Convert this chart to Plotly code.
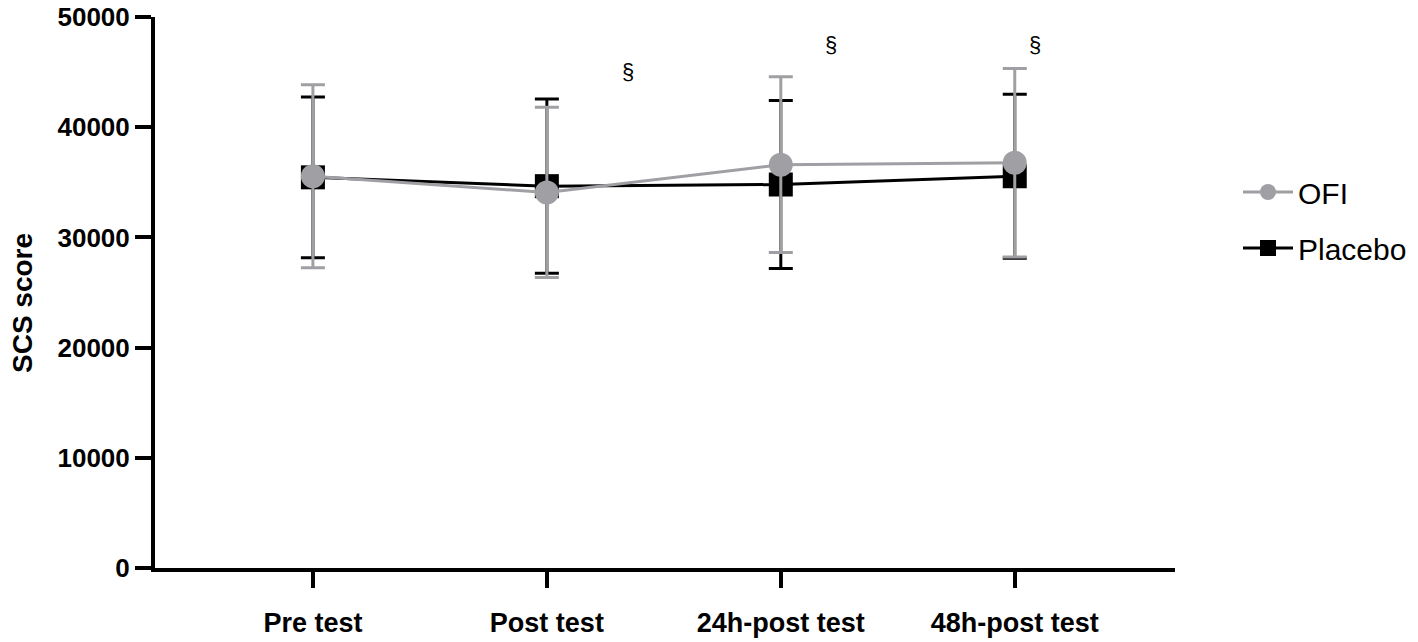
import plotly.graph_objects as go

categories = ["Pre test", "Post test", "24h-post test", "48h-post test"]

ofi_mean = [35550, 34080, 36600, 36770]
ofi_sd = [8300, 7720, 7970, 8550]

placebo_mean = [35450, 34650, 34800, 35550]
placebo_sd = [7300, 7900, 7630, 7450]

sig_labels = ["§", "§", "§"]
sig_x = [1.346, 2.214, 3.085]
sig_y = [45050, 47480, 47480]

y_title = "SCS score"

GRAY = "#A0A0A4"
FONT = "Liberation Sans, Arial, sans-serif"
TOP = 17
PLOT_H = 568 - TOP

fig = go.Figure()

fig.add_trace(go.Scatter(
    x=categories, y=placebo_mean, name="Placebo", mode="lines+markers",
    line=dict(color="black", width=3),
    marker=dict(symbol="square", size=24, color="black"),
    error_y=dict(type="data", array=placebo_sd, visible=True, color="black",
                 thickness=3, width=12),
    legendrank=2, legendgroup="p",
))

fig.add_trace(go.Scatter(
    x=categories, y=ofi_mean, name="OFI", mode="lines+markers",
    line=dict(color=GRAY, width=3),
    marker=dict(symbol="circle", size=24, color=GRAY),
    error_y=dict(type="data", array=ofi_sd, visible=True, color=GRAY,
                 thickness=3, width=12),
    legendrank=1, legendgroup="o",
))

for lab, xs, ys in zip(sig_labels, sig_x, sig_y):
    fig.add_annotation(x=xs, y=ys, text=lab, showarrow=False,
                       font=dict(family=FONT, size=22, color="black"))

fig.add_annotation(xref="paper", yref="paper", x=(22 - 155) / 1020, y=(568 - 303) / PLOT_H,
                   text=y_title, textangle=-90, showarrow=False,
                   xanchor="center", yanchor="middle",
                   font=dict(family=FONT, size=28, weight="bold", color="black"))

fig.update_layout(
    width=1418, height=642,
    margin=dict(l=155, r=243, t=TOP, b=74, autoexpand=False),
    plot_bgcolor="white", paper_bgcolor="white",
    font=dict(family=FONT, color="black"),
    showlegend=True,
    legend=dict(x=(1238 - 155) / 1020, y=(568 - 166) / PLOT_H, xanchor="left", yanchor="top",
                font=dict(family=FONT, size=30, color="black"),
                itemwidth=50,
                tracegroupgap=14, bgcolor="rgba(0,0,0,0)"),
)

fig.update_xaxes(
    type="category", range=[-0.675, 3.685], automargin=False,
    showline=True, linecolor="black", linewidth=4,
    ticks="outside", ticklen=16, tickwidth=4, tickcolor="black",
    tickfont=dict(family=FONT, size=27, weight="bold", color="black"),
    ticklabelstandoff=12,
    showgrid=False, zeroline=False,
)

fig.update_yaxes(
    range=[0, 50000], tickvals=[0, 10000, 20000, 30000, 40000, 50000],
    tickformat="d", automargin=False, ticklabeloverflow="allow",
    showline=True, linecolor="black", linewidth=4,
    ticks="outside", ticklen=16, tickwidth=4, tickcolor="black",
    tickfont=dict(family=FONT, size=26, weight="bold", color="black"),
    showgrid=False, zeroline=False,
)

fig.write_html("out.html", config={"displayModeBar": False},
               post_script="document.body.style.margin='0';")
